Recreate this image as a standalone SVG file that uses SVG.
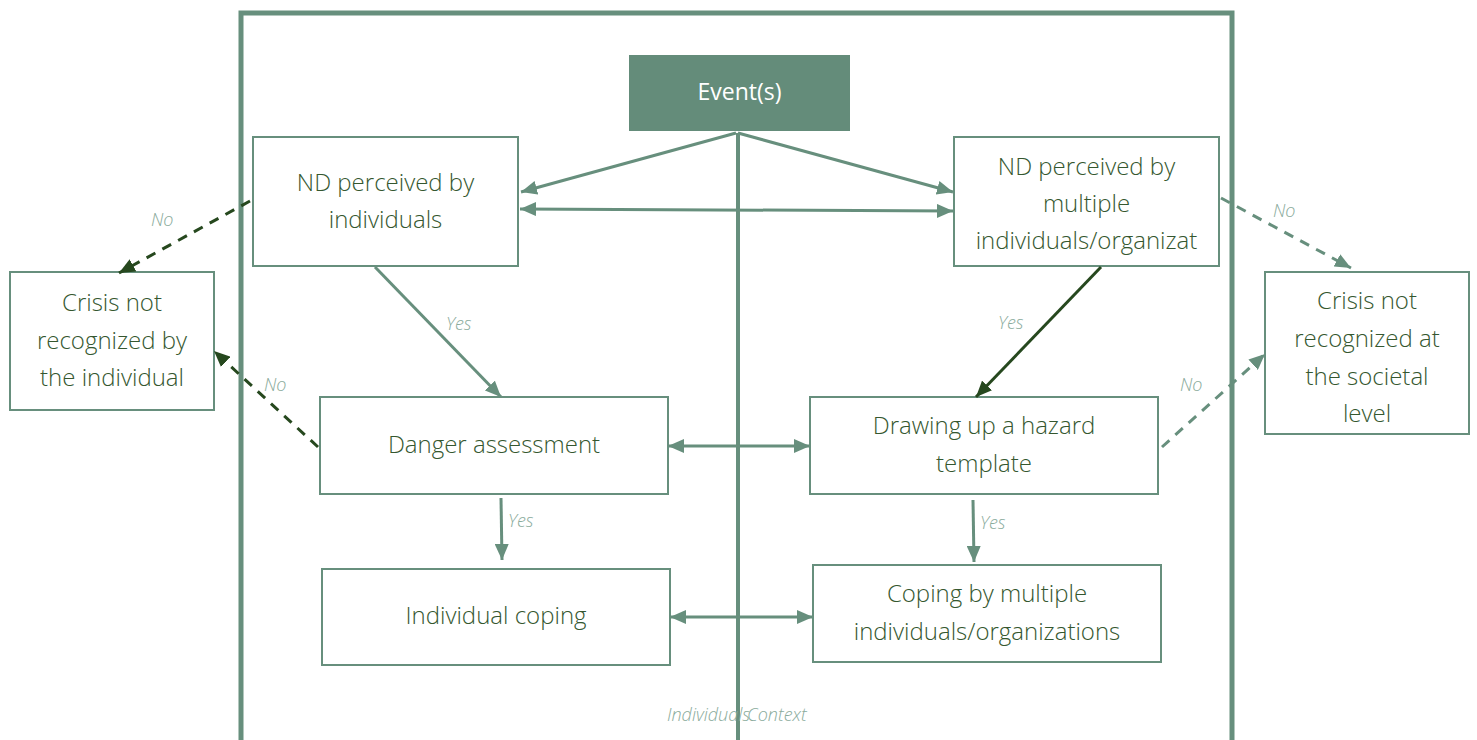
<svg xmlns="http://www.w3.org/2000/svg" width="1477" height="740" viewBox="0 0 1477 740">
<defs>
<style>
.box{fill:#fff;stroke:#678f7d;stroke-width:2}
.t{font-family:"Open Sans","Liberation Sans",sans-serif;font-weight:300;font-size:24px;fill:#35572f;text-anchor:middle}
.lbl{font-family:"Open Sans","Liberation Sans",sans-serif;font-weight:300;font-style:italic;font-size:18px;fill:#8aab9c}
.c{fill:none;stroke:#678f7d;stroke-width:3}
.cd{fill:none;stroke:#26481e;stroke-width:3}
.dash{stroke-dasharray:10 8}
</style>
<marker id="a" viewBox="0 0 16 14" refX="16" refY="7" markerWidth="16" markerHeight="14" markerUnits="userSpaceOnUse" orient="auto-start-reverse"><path d="M0 0L16 7L0 14z" fill="#678f7d"/></marker>
<marker id="ad" viewBox="0 0 16 14" refX="16" refY="7" markerWidth="16" markerHeight="14" markerUnits="userSpaceOnUse" orient="auto-start-reverse"><path d="M0 0L16 7L0 14z" fill="#26481e"/></marker>
</defs>
<rect width="1477" height="740" fill="#fff"/>
<g id="frame" fill="none" stroke="#678f7d" stroke-width="5">
<polyline points="241,742 241,13 1232,13 1232,742"/>
<line x1="738" y1="133" x2="738" y2="742" stroke-width="4"/>
</g>
<g id="event"><rect x="629" y="55" width="221" height="76" fill="#648c7a"/><text class="t" x="739.5" y="100" style="fill:#fff;font-weight:400;font-size:23px">Event(s)</text></g>
<g id="nd-ind"><rect class="box" x="253" y="137" width="265" height="129"/><text class="t" x="385.5" y="191">ND perceived by</text><text class="t" x="385.5" y="228">individuals</text></g>
<g id="nd-mult"><rect class="box" x="954" y="137" width="265" height="129"/><text class="t" x="1086.5" y="175">ND perceived by</text><text class="t" x="1086.5" y="212">multiple</text><text class="t" x="1086.5" y="249">individuals/organizat</text></g>
<g id="crisis-ind"><rect class="box" x="10" y="272" width="204" height="138"/><text class="t" x="112" y="311">Crisis not</text><text class="t" x="112" y="349">recognized by</text><text class="t" x="112" y="386">the individual</text></g>
<g id="crisis-soc"><rect class="box" x="1265" y="272" width="204" height="162"/><text class="t" x="1367" y="309">Crisis not</text><text class="t" x="1367" y="347">recognized at</text><text class="t" x="1367" y="385">the societal</text><text class="t" x="1367" y="422">level</text></g>
<g id="danger"><rect class="box" x="320" y="397" width="348" height="97"/><text class="t" x="494" y="453">Danger assessment</text></g>
<g id="hazard"><rect class="box" x="810" y="397" width="348" height="97"/><text class="t" x="984" y="434">Drawing up a hazard</text><text class="t" x="984" y="472">template</text></g>
<g id="ind-coping"><rect class="box" x="322" y="569" width="348" height="96"/><text class="t" x="496" y="624">Individual coping</text></g>
<g id="mult-coping"><rect class="box" x="813" y="565" width="348" height="97"/><text class="t" x="987" y="602">Coping by multiple</text><text class="t" x="987" y="640">individuals/organizations</text></g>
<g id="connectors">
<line class="c" x1="736" y1="133" x2="521" y2="192" marker-end="url(#a)"/>
<line class="c" x1="738" y1="133" x2="953" y2="192" marker-end="url(#a)"/>
<line class="c" x1="520" y1="209" x2="953" y2="211" marker-start="url(#a)" marker-end="url(#a)"/>
<line class="c" x1="375" y1="267" x2="501" y2="397" marker-end="url(#a)"/>
<line class="cd" x1="1101" y1="267" x2="976" y2="397" marker-end="url(#ad)"/>
<line class="c" x1="501" y1="498" x2="502" y2="560" marker-end="url(#a)"/>
<line class="c" x1="973" y1="500" x2="974" y2="562" marker-end="url(#a)"/>
<line class="c" x1="668" y1="446" x2="810" y2="446" marker-start="url(#a)" marker-end="url(#a)"/>
<line class="c" x1="670" y1="617" x2="813" y2="617" marker-start="url(#a)" marker-end="url(#a)"/>
<line class="cd dash" x1="250" y1="201" x2="119" y2="273" marker-end="url(#ad)"/>
<line class="cd dash" x1="318" y1="447" x2="214" y2="351" marker-end="url(#ad)"/>
<line class="c dash" x1="1221" y1="198" x2="1351" y2="268" marker-end="url(#a)"/>
<line class="c dash" x1="1162" y1="447" x2="1265" y2="354" marker-end="url(#a)"/>
</g>
<g id="labels">
<text class="lbl" x="446" y="330">Yes</text>
<text class="lbl" x="998" y="329">Yes</text>
<text class="lbl" x="508" y="527">Yes</text>
<text class="lbl" x="980" y="529">Yes</text>
<text class="lbl" x="151" y="226">No</text>
<text class="lbl" x="264" y="391">No</text>
<text class="lbl" x="1273" y="217">No</text>
<text class="lbl" x="1180" y="391">No</text>
<text class="lbl" x="667" y="721">Individuals</text>
<text class="lbl" x="747" y="721">Context</text>
</g>
</svg>
